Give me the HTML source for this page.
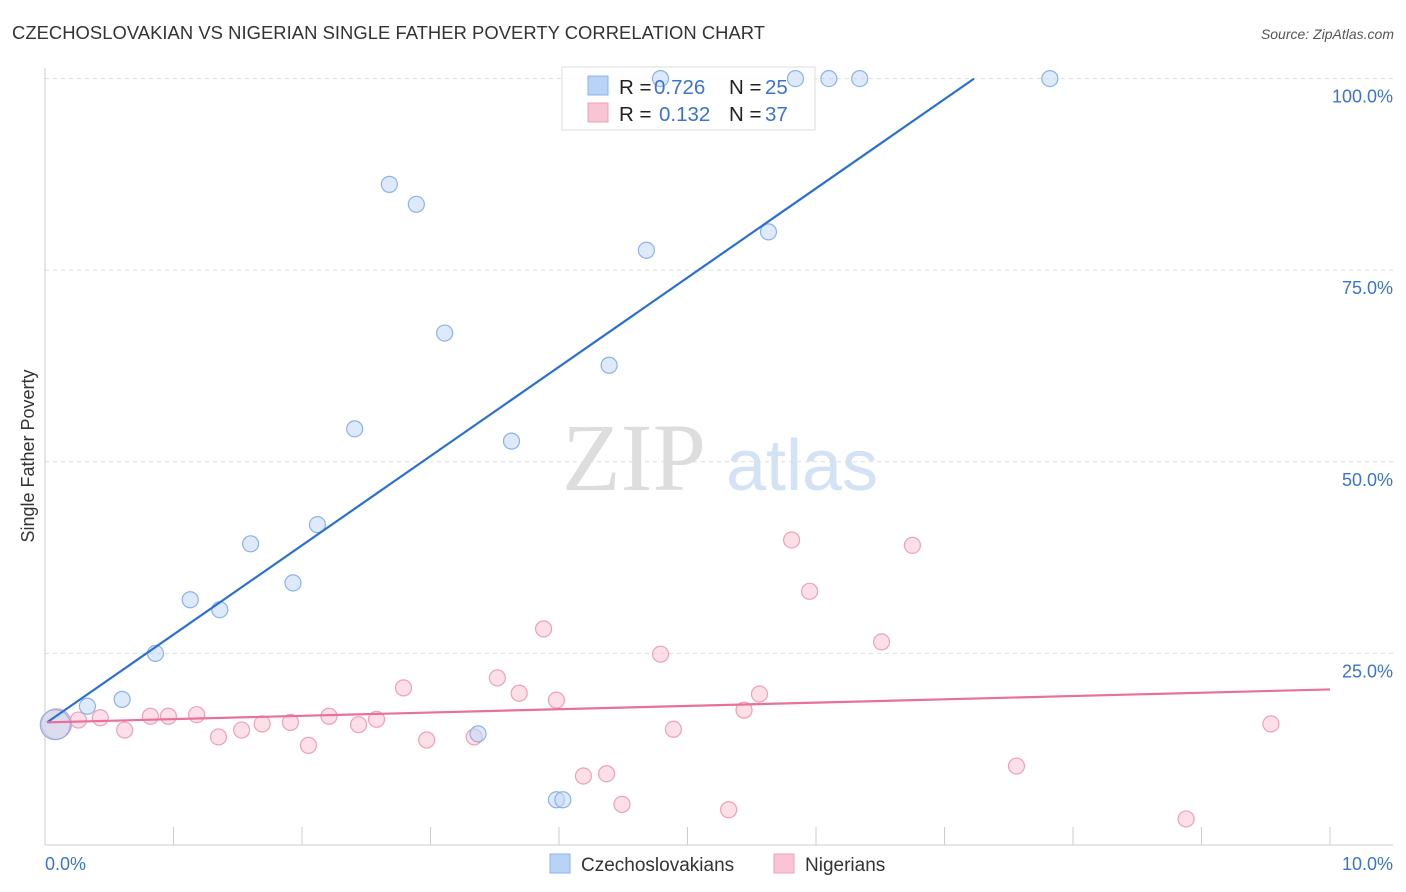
<!DOCTYPE html>
<html><head><meta charset="utf-8">
<style>
body{margin:0;background:#fff;font-family:"Liberation Sans",sans-serif;}
svg{display:block}
</style></head>
<body>
<svg id="chart" width="1406" height="892" viewBox="0 0 1406 892">
<text x="12" y="39" font-size="18.4" fill="#333" textLength="753">CZECHOSLOVAKIAN VS NIGERIAN SINGLE FATHER POVERTY CORRELATION CHART</text>
<text x="1394" y="39" font-size="14" fill="#555" font-style="italic" text-anchor="end">Source: ZipAtlas.com</text>
<text x="634" y="490" font-size="96" fill="#ddd" font-family="Liberation Serif,serif" text-anchor="middle">ZIP</text>
<text x="802" y="490" font-size="72" fill="#d3e2f5" text-anchor="middle">atlas</text>
<text transform="translate(34,456) rotate(-90)" font-size="18" fill="#333" text-anchor="middle">Single Father Poverty</text>
<g id="grid"></g>
<g id="axes"></g>
<rect x="562" y="67" width="253" height="63" fill="#fff" fill-opacity="0.8" stroke="#ddd"/>
<g id="marks"></g>
<g id="legend">
<rect x="588" y="76" width="20" height="19" fill="#b8d3f5" stroke="#8ab3e8"/>
<rect x="588" y="103" width="20" height="19" fill="#f9c4d4" stroke="#f0a0b8"/>
<text x="619" y="94" font-size="20.5" fill="#222">R = <tspan fill="#3a74d0" x="654">0.726</tspan><tspan x="729">N = </tspan><tspan fill="#3a74d0" x="765">25</tspan></text>
<text x="619" y="121" font-size="20.5" fill="#222">R = <tspan fill="#3a74d0" x="659">0.132</tspan><tspan x="729">N = </tspan><tspan fill="#3a74d0" x="765">37</tspan></text>
</g>
<g>
<rect x="550" y="854" width="20" height="19" fill="#b8d3f5" stroke="#8ab3e8"/>
<text x="581" y="871" font-size="19" fill="#333">Czechoslovakians</text>
<rect x="774" y="854" width="20" height="19" fill="#f9c4d4" stroke="#f0a0b8"/>
<text x="805" y="871" font-size="19" fill="#333">Nigerians</text>
</g>
</svg>
<script>
const yTicks=[25,50,75,100];
const yTickLabels=["25.0%","50.0%","75.0%","100.0%"];
const xTickValues=[0,1,2,3,4,5,6,7,8,9,10];
const czechX=[0.08,0.33,0.6,0.86,1.13,1.36,1.6,1.93,2.12,2.41,2.68,2.89,3.11,3.37,3.63,3.98,4.03,4.39,4.68,4.79,5.63,5.84,6.10,6.34,7.82];
const czechY=[15.7,18.1,19.0,25.0,32.0,30.7,39.3,34.2,41.8,54.3,86.2,83.6,66.8,14.5,52.7,5.9,5.9,62.6,77.6,100,80.0,100,100,100,100];
const nigX=[0.09,0.26,0.43,0.62,0.82,0.96,1.18,1.35,1.53,1.69,1.91,2.05,2.21,2.44,2.58,2.79,2.97,3.34,3.52,3.69,3.88,3.98,4.19,4.37,4.49,4.79,4.89,5.32,5.44,5.56,5.81,5.95,6.51,6.75,7.56,8.88,9.54];
const nigY=[15.8,16.3,16.6,15.0,16.8,16.8,17.0,14.1,15.0,15.8,16.0,13.0,16.8,15.7,16.4,20.5,13.7,14.1,21.8,19.8,28.2,18.9,9.0,9.3,5.3,24.9,15.1,4.6,17.6,19.7,39.8,33.1,26.5,39.1,10.3,3.4,15.8];
const czechLine=[0.016,16.0,7.23,100];
const nigLine=[0.016,16.0,10,20.3];
const NS="http://www.w3.org/2000/svg";
const sx=v=>45+v*128.5, sy=v=>845-v*7.664;
function mk(tag,attrs,parent){const e=document.createElementNS(NS,tag);for(const k in attrs)e.setAttribute(k,attrs[k]);document.getElementById(parent).appendChild(e);return e;}
yTicks.forEach((t,i)=>{
 const l=mk('line',{x1:45,x2:1393,y1:sy(t),y2:sy(t),stroke:'#ddd','stroke-dasharray':'4,4'},'grid');
 
 
 const tx=mk('text',{x:1393,y:sy(t)+24,'font-size':18,fill:'#3a74d0','text-anchor':'end'},'axes');
 tx.textContent=yTickLabels[i];
 
 
});
const yl=mk('line',{x1:45,x2:45,y1:68,y2:845,stroke:'#ccc'},'axes');


const xl=mk('line',{x1:45,x2:1393,y1:845,y2:845,stroke:'#ccc'},'axes');


xTickValues.forEach(v=>{const t=mk('line',{x1:sx(v),x2:sx(v),y1:827,y2:845,stroke:'#ccc'},'axes');
 
 });
[[0,"0.0%",'start',45],[10,"10.0%",'end',1393]].forEach(a=>{const t=mk('text',{x:a[3],y:870,'font-size':18,fill:'#3a74d0','text-anchor':a[2]},'axes');t.textContent=a[1];
 
 });
function pts(X,Y,fill,stroke,name){X.forEach((x,i)=>{const big=i===0;const c=mk('circle',{cx:sx(x),cy:sy(Y[i]),r:big?15:8,fill:fill,stroke:stroke,'stroke-width':1.2,'fill-opacity':0.55},'marks');
 
 });}
pts(nigX,nigY,'#f9c4d4','#f0a0b8','nigerian-point');
pts(czechX,czechY,'#c3d8f5','#8ab3e8','czech-point');
const bl=mk('line',{x1:sx(czechLine[0]),y1:sy(czechLine[1]),x2:sx(czechLine[2]),y2:sy(czechLine[3]),stroke:'#2a6fd6','stroke-width':2.2},'marks');


const pl=mk('line',{x1:sx(nigLine[0]),y1:sy(nigLine[1]),x2:sx(nigLine[2]),y2:sy(nigLine[3]),stroke:'#e8709a','stroke-width':2.2},'marks');


</script>
</body></html>
